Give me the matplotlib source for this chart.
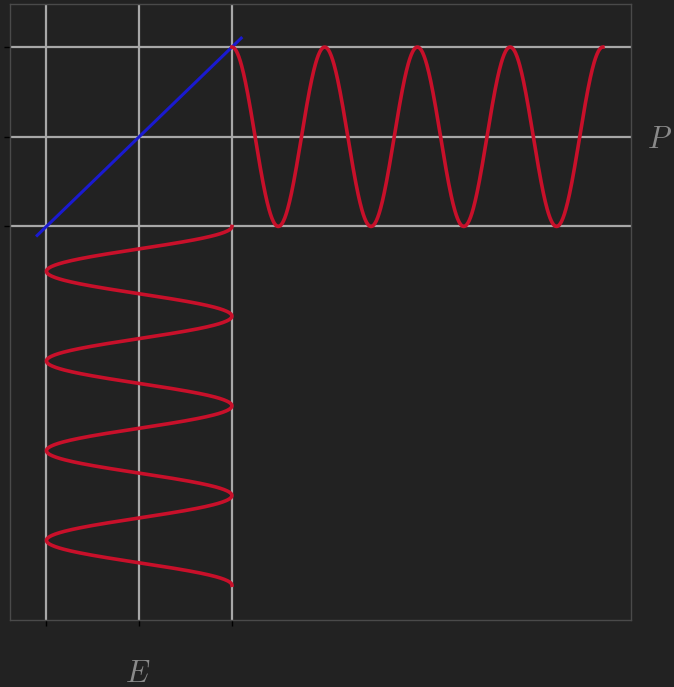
import matplotlib
matplotlib.use('Agg')
import matplotlib.pyplot as plt
import numpy as np

plt.rcParams['mathtext.fontset'] = 'cm'

# grid positions on both axes
ticks = [-1, 0, 1]

# blue transfer line: P = E on [-1.1, 1.1]
line_E = [-1.1, 1.1]
line_P = [-1.1, 1.1]

# output wave (right) and input wave (below), unit amplitude, one cycle per unit
amp = 1.0
n_cycles = 4
start = 1.0

t = np.linspace(0, n_cycles, 800)
wave = amp * np.cos(2 * np.pi * t)

bg = '#222222'
fig = plt.figure(figsize=(6.74, 6.87), dpi=100, facecolor=bg)
ax = fig.add_axes([0.0148, 0.0975, 0.921, 0.8965], facecolor=bg)

ax.set_xticks(ticks)
ax.set_yticks(ticks)
ax.set_xticklabels([])
ax.set_yticklabels([])
ax.grid(True, color='#a8a8a8', linewidth=1.6)
ax.set_axisbelow(True)
ax.tick_params(direction='out', length=4, width=1, color='black')
for s in ax.spines.values():
    s.set_color('#4a4a4a')
    s.set_linewidth(1)

ax.plot(line_E, line_P, color='#1a1ad0', linewidth=2.2)
# output P vs time along x
ax.plot(start + t, wave, color='#c8102a', linewidth=2.6)
# input E vs time along -y
ax.plot(wave, -start - t, color='#c8102a', linewidth=2.6)

ax.set_xlim(-1.393, 5.30)
ax.set_ylim(-5.388, 1.479)

fig.text(0.204, 0.020, '$E$', color='#8a8a8a', fontsize=22, ha='center', va='center')
fig.text(0.978, 0.797, '$P$', color='#8a8a8a', fontsize=22, ha='center', va='center')

fig.savefig('out.png', dpi=100, facecolor=bg)
